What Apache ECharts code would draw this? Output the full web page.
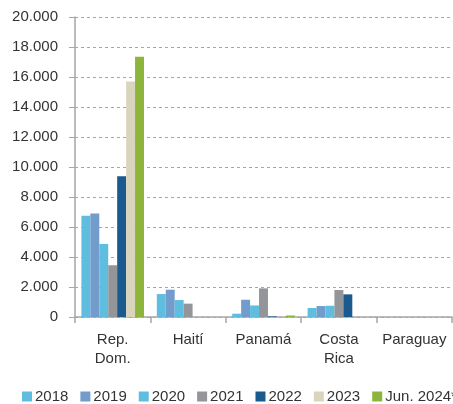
<!DOCTYPE html>
<html>
<head>
<meta charset="utf-8">
<script src="https://cdn.jsdelivr.net/npm/echarts@6/dist/echarts.min.js"></script>
<style>
  html, body { margin: 0; padding: 0; background: #fff; }
  #chart { width: 453px; height: 404px; }
</style>
</head>
<body>
<div id="chart"></div>
<script>
// Countries on the category axis
const categories = ['Rep.\nDom.', 'Haití', 'Panamá', 'Costa\nRica', 'Paraguay'];

// One array per year, values per country
const v2018 = [6750, 1530, 220, 600, 0];
const v2019 = [6900, 1820, 1150, 730, 0];
const v2020 = [4870, 1130, 770, 750, 0];
const v2021 = [3450, 890, 1910, 1800, 0];
const v2022 = [9380, 0, 40, 1510, 0];
const v2023 = [15700, 0, 0, 0, 0];
const v2024 = [17350, 0, 100, 0, 0];

const seriesNames = ['2018', '2019', '2020', '2021', '2022', '2023', 'Jun. 2024*'];
const seriesValues = [v2018, v2019, v2020, v2021, v2022, v2023, v2024];
const seriesColors = ['#5fbde0', '#719ccc', '#5fbde0', '#939598', '#1b5a8e', '#d9d5bd', '#8db53b'];

const fmt = v => String(v).replace(/\B(?=(\d{3})+(?!\d))/g, '.');

const chart = echarts.init(document.getElementById('chart'), null, { renderer: 'canvas' });
chart.setOption({
  animation: false,
  textStyle: { fontFamily: 'Liberation Sans, Arial, sans-serif' },
  grid: { left: 75, right: 1, top: 17, bottom: 87, containLabel: false },
  legend: {
    left: 17,
    top: 384,
    width: 520,
    itemWidth: 10,
    itemHeight: 10,
    itemGap: 12,
    icon: 'rect',
    textStyle: { fontSize: 15, color: '#333', padding: [0, 0, 0, -2] },
    data: seriesNames
  },
  xAxis: {
    type: 'category',
    data: categories,
    axisLine: { lineStyle: { color: '#a6a6a6', width: 1.5 } },
    axisTick: { show: true, length: 6, lineStyle: { color: '#a6a6a6', width: 1.5 } },
    axisLabel: { interval: 0, fontSize: 15, color: '#333', margin: 13, lineHeight: 19 }
  },
  yAxis: {
    type: 'value',
    min: 0,
    max: 20000,
    interval: 2000,
    axisLine: { show: true, lineStyle: { color: '#a6a6a6', width: 1.5 } },
    axisTick: { show: true, length: 6, lineStyle: { color: '#a6a6a6', width: 1 } },
    axisLabel: { fontSize: 15, color: '#333', margin: 17, formatter: fmt },
    splitLine: { lineStyle: { color: '#a6a6a6', type: [3, 3], width: 1 } }
  },
  series: seriesNames.map((name, i) => ({
    name,
    type: 'bar',
    data: seriesValues[i],
    barGap: '0%',
    barCategoryGap: '17%',
    itemStyle: { color: seriesColors[i] }
  }))
});
</script>
</body>
</html>
